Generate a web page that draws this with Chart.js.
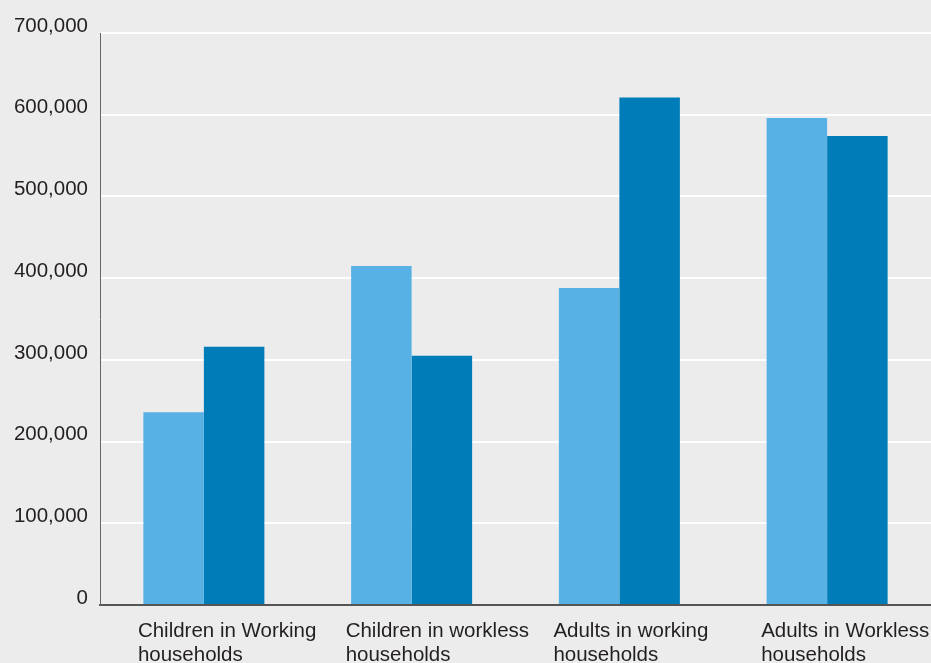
<!DOCTYPE html>
<html>
<head>
<meta charset="utf-8">
<script src="https://cdn.jsdelivr.net/npm/chart.js@4/dist/chart.umd.min.js"></script>
<style>
  html, body { margin: 0; padding: 0; background: #ececec; overflow: hidden; }
  #wrap { width: 931px; height: 663px; position: relative; }
</style>
</head>
<body>
<div id="wrap"><canvas id="chart"></canvas></div>
<script>
// ===== DATA =====
const categories = [
  ["Children in Working", "households"],
  ["Children in workless", "households"],
  ["Adults in working", "households"],
  ["Adults in Workless", "households"]
];
const seriesA = [236000, 415000, 388000, 596000];
const seriesB = [316000, 305000, 621000, 574000];
const yTicks = [0, 100000, 200000, 300000, 400000, 500000, 600000, 700000];

// ===== STYLE =====
const lightBlue = "#57b1e4";
const darkBlue = "#007db8";
const textColor = "#231f20";

Chart.defaults.font.family = "'Liberation Sans', Arial, Helvetica, sans-serif";
Chart.defaults.font.size = 20.5;
Chart.defaults.color = textColor;

// ===== CHART =====
const ctx = document.getElementById("chart").getContext("2d");

const chart = new Chart(ctx, {
  type: "bar",
  data: {
    labels: categories,
    datasets: [
      { label: "Series A", data: seriesA, backgroundColor: lightBlue, borderWidth: 0 },
      { label: "Series B", data: seriesB, backgroundColor: darkBlue, borderWidth: 0 }
    ]
  },
  options: {
    responsive: true,
    maintainAspectRatio: false,
    animation: false,
    layout: { padding: { top: 33, left: 0, right: 0, bottom: 0 } },
    datasets: {
      bar: { categoryPercentage: 0.5825, barPercentage: 1 }
    },
    plugins: {
      legend: { display: false },
      tooltip: { enabled: false }
    },
    scales: {
      x: {
        grid: { display: false, drawTicks: false },
        border: { display: true, color: "#555555", width: 2 },
        ticks: {
          align: "start",
          labelOffset: -66,
          padding: 14,
          maxRotation: 0,
          autoSkip: false,
          font: { size: 20.5, lineHeight: 1.17 }
        },
        afterFit: function (scale) {
          scale.paddingLeft = 0;
          scale.paddingRight = 0;
          scale.height = 58;
        }
      },
      y: {
        min: 0,
        max: 700000,
        afterBuildTicks: function (scale) {
          scale.ticks = yTicks.map(v => ({ value: v }));
        },
        grid: { color: "#ffffff", lineWidth: 2, drawTicks: false },
        border: { display: true, color: "#666666", width: 1 },
        ticks: {
          padding: 12,
          labelOffset: -7,
          font: { size: 20.5 },
          callback: v => v.toLocaleString("en-US")
        },
        afterFit: function (scale) {
          scale.width = 100;
          scale.paddingTop = 0;
          scale.paddingBottom = 0;
        }
      }
    }
  }
});
</script>
</body>
</html>
